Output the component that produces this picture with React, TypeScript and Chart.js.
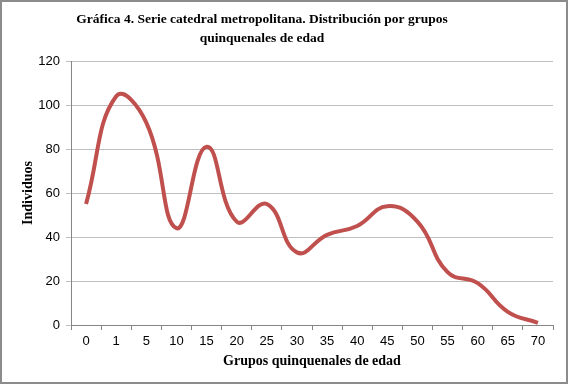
import React, { useEffect, useRef } from "react";
import { Chart, registerables } from "chart.js";

Chart.register(...registerables);

const categories = ["0", "1", "5", "10", "15", "20", "25", "30", "35", "40", "45", "50", "55", "60", "65", "70"];
const individuos = [55, 104, 92, 44, 81, 47, 55, 33, 41, 45, 54, 47, 24, 19, 6, 1];
const titleLines = ["Gráfica 4. Serie catedral metropolitana. Distribución por grupos", "quinquenales de edad"];

const framePlugin = {
  id: "frameAndTitle",
  afterDraw(chart: any) {
    const { ctx, width, height } = chart;
    ctx.save();
    ctx.strokeStyle = "#8c8c8c";
    ctx.lineWidth = 2;
    ctx.strokeRect(1, 1, width - 2, height - 4);
    ctx.fillStyle = "#000";
    ctx.font = "bold 13.5px 'Liberation Serif'";
    ctx.textAlign = "center";
    ctx.textBaseline = "middle";
    titleLines.forEach((t, i) => ctx.fillText(t, 262, 20 + i * 18.5));
    ctx.restore();
  },
};

export default function App() {
  const ref = useRef<HTMLCanvasElement>(null);
  useEffect(() => {
    document.body.style.margin = "0";
    const chart = new Chart(ref.current!, {
      type: "line",
      data: {
        labels: categories,
        datasets: [
          {
            data: individuos,
            borderColor: "#C0504D",
            borderWidth: 4,
            pointRadius: 0,
            tension: 0.45,
            fill: false,
          },
        ],
      },
      plugins: [framePlugin],
      options: {
        animation: false,
        responsive: false,
        layout: { padding: { left: 20, right: 15, top: 61, bottom: 16 } },
        plugins: {
          legend: { display: false },
          tooltip: { enabled: false },
          title: { display: false },
        },
        scales: {
          x: {
            offset: true,
            grid: { display: true, drawOnChartArea: false, drawTicks: true, tickLength: 5, offset: true, color: "#868686" },
            border: { color: "#868686", width: 1 },
            ticks: { color: "#000", font: { family: "Liberation Sans", size: 13 }, padding: 4, maxRotation: 0, autoSkip: false },
            title: {
              display: true,
              text: "Grupos quinquenales de edad",
              color: "#000",
              font: { family: "Liberation Serif", size: 14, weight: "bold" },
              padding: { top: 2, bottom: 0 },
            },
            afterFit(scale: any) {
              scale.height = 45;
            },
          },
          y: {
            min: 0,
            max: 120,
            ticks: { stepSize: 20, color: "#000", font: { family: "Liberation Sans", size: 13 }, padding: 6 },
            grid: { color: "#bfbfbf", tickLength: 5, drawTicks: true },
            border: { color: "#868686", width: 1 },
            title: {
              display: true,
              text: "Individuos",
              color: "#000",
              font: { family: "Liberation Serif", size: 14, weight: "bold" },
              padding: { top: 0, bottom: 0 },
            },
            afterFit(scale: any) {
              scale.width = 51;
            },
          },
        },
      },
    });
    return () => chart.destroy();
  }, []);
  return (
    <div style={{ width: 568, height: 386 }}>
      <canvas ref={ref} width={568} height={386} style={{ display: "block" }} />
    </div>
  );
}
